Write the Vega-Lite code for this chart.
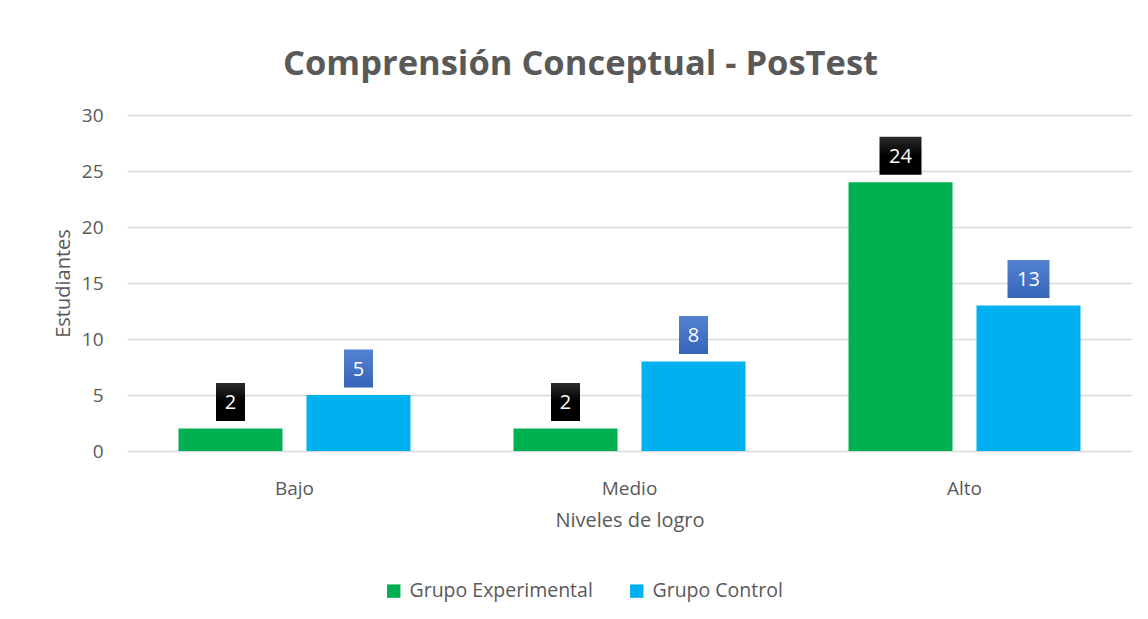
{
  "$schema": "https://vega.github.io/schema/vega-lite/v6.json",
  "width": 1005,
  "height": 336,
  "autosize": {"type": "none"},
  "padding": {"left": 127, "top": 115, "right": 16, "bottom": 168},
  "background": "white",
  "title": {
    "text": "Comprensión Conceptual - PosTest",
    "font": "Open Sans",
    "fontSize": 34.5,
    "fontWeight": "bold",
    "color": "#595959",
    "anchor": "middle",
    "offset": 24,
    "dx": -49
  },
  "config": {
    "view": {"stroke": null},
    "font": "Open Sans",
    "axis": {"labelColor": "#595959", "titleColor": "#595959", "labelFont": "Open Sans", "titleFont": "Open Sans", "titleFontWeight": "normal"}
  },
  "data": {
    "values": [
      {"nivel": "Bajo", "grupo": "Grupo Experimental", "valor": 2},
      {"nivel": "Bajo", "grupo": "Grupo Control", "valor": 5},
      {"nivel": "Medio", "grupo": "Grupo Experimental", "valor": 2},
      {"nivel": "Medio", "grupo": "Grupo Control", "valor": 8},
      {"nivel": "Alto", "grupo": "Grupo Experimental", "valor": 24},
      {"nivel": "Alto", "grupo": "Grupo Control", "valor": 13}
    ]
  },
  "encoding": {
    "x": {
      "field": "nivel", "type": "nominal", "sort": ["Bajo", "Medio", "Alto"],
      "scale": {"paddingInner": 0.3075, "paddingOuter": 0.15375},
      "axis": {"title": "Niveles de logro", "labelAngle": 0, "labelFontSize": 19, "titleFontSize": 20, "labelPadding": 28, "titlePadding": 12, "domain": false, "ticks": false}
    },
    "xOffset": {
      "field": "grupo", "type": "nominal", "sort": ["Grupo Experimental", "Grupo Control"],
      "scale": {"paddingInner": 0.1875, "paddingOuter": 0}
    },
    "y": {
      "field": "valor", "type": "quantitative",
      "scale": {"domain": [0, 30], "nice": false},
      "axis": {"title": "Estudiantes", "values": [0, 5, 10, 15, 20, 25, 30], "labelFontSize": 19, "titleFontSize": 20, "labelPadding": 24, "titlePadding": 8, "domain": false, "ticks": false, "gridColor": "#d9d9d9", "gridWidth": 1.5}
    }
  },
  "layer": [
    {
      "mark": {"type": "bar"},
      "encoding": {
        "color": {
          "field": "grupo", "type": "nominal",
          "scale": {"domain": ["Grupo Experimental", "Grupo Control"], "range": ["#00B050", "#00B0F0"]},
          "legend": {
            "title": null, "orient": "none", "direction": "horizontal",
            "legendX": 257, "legendY": 466,
            "symbolType": "square", "symbolSize": 180, "symbolStrokeWidth": 0,
            "labelFontSize": 19.5, "labelColor": "#595959", "labelFont": "Open Sans", "labelLimit": 400,
            "columnPadding": 34, "labelOffset": 6, "padding": 0
          }
        }
      }
    },
    {
      "transform": [{"filter": "datum.grupo == 'Grupo Experimental'"}],
      "mark": {
        "type": "point", "filled": true, "yOffset": -26.5, "size": 1444, "opacity": 1,
        "color": {"gradient": "linear", "x1": 0, "y1": 0, "x2": 0, "y2": 1, "stops": [{"offset": 0, "color": "#2b2b2b"}, {"offset": 0.5, "color": "#000000"}, {"offset": 1, "color": "#000000"}]}
      },
      "encoding": {
        "shape": {"condition": {"test": "datum.valor >= 10", "value": "M-1.105,-1L1.105,-1L1.105,1L-1.105,1Z"}, "value": "M-0.763,-1L0.763,-1L0.763,1L-0.763,1Z"}
      }
    },
    {
      "transform": [{"filter": "datum.grupo == 'Grupo Control'"}],
      "mark": {
        "type": "point", "filled": true, "yOffset": -26.5, "size": 1444, "opacity": 1,
        "color": {"gradient": "linear", "x1": 0, "y1": 0, "x2": 0, "y2": 1, "stops": [{"offset": 0, "color": "#5583d3"}, {"offset": 1, "color": "#3563b8"}]}
      },
      "encoding": {
        "shape": {"condition": {"test": "datum.valor >= 10", "value": "M-1.105,-1L1.105,-1L1.105,1L-1.105,1Z"}, "value": "M-0.763,-1L0.763,-1L0.763,1L-0.763,1Z"}
      }
    },
    {
      "mark": {"type": "text", "yOffset": -25.5, "baseline": "middle", "align": "center", "fontSize": 20, "color": "white", "font": "Open Sans"},
      "encoding": {"text": {"field": "valor", "type": "quantitative"}}
    }
  ]
}
